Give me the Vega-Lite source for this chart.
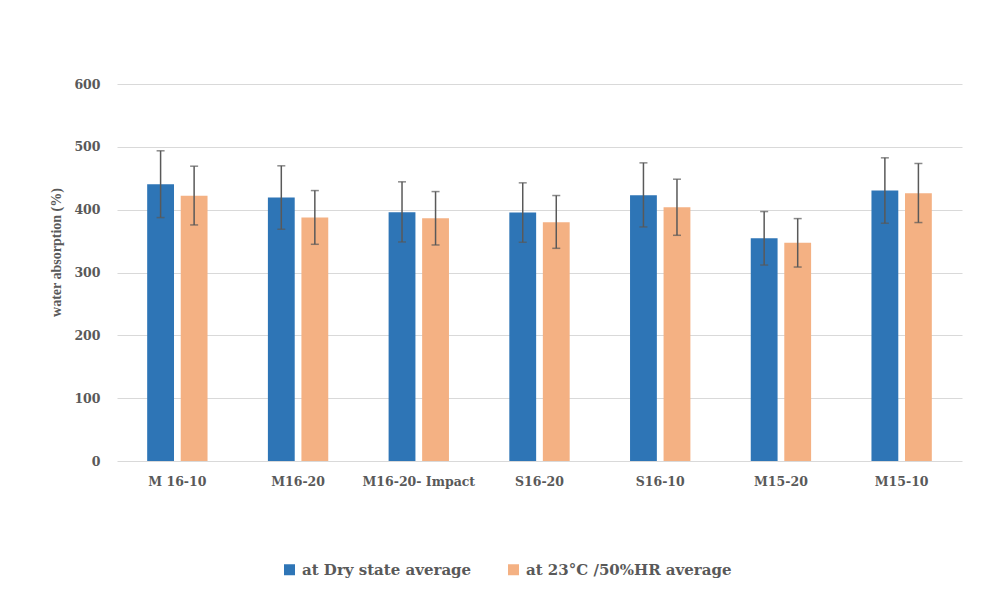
{
  "$schema": "https://vega.github.io/schema/vega-lite/v6.json",
  "width": 845,
  "height": 377,
  "autosize": "none",
  "padding": {"left": 117, "top": 84, "right": 26, "bottom": 130},
  "background": "white",
  "config": {
    "view": {"stroke": null},
    "font": "DejaVu Serif"
  },
  "data": {
    "values": [
      {"sample": "M 16-10", "series": "at Dry state average", "value": 440.5, "lo": 387.4, "hi": 493.7},
      {"sample": "M 16-10", "series": "at  23°C /50%HR average", "value": 422.0, "lo": 375.7, "hi": 469.2},
      {"sample": "M16-20", "series": "at Dry state average", "value": 419.3, "lo": 368.8, "hi": 469.8},
      {"sample": "M16-20", "series": "at  23°C /50%HR average", "value": 387.4, "lo": 344.9, "hi": 430.4},
      {"sample": "M16-20- Impact", "series": "at Dry state average", "value": 396.0, "lo": 348.6, "hi": 444.3},
      {"sample": "M16-20- Impact", "series": "at  23°C /50%HR average", "value": 386.3, "lo": 343.8, "hi": 428.8},
      {"sample": "S16-20", "series": "at Dry state average", "value": 395.4, "lo": 348.1, "hi": 442.7},
      {"sample": "S16-20", "series": "at  23°C /50%HR average", "value": 380.0, "lo": 338.5, "hi": 422.5},
      {"sample": "S16-10", "series": "at Dry state average", "value": 423.0, "lo": 372.5, "hi": 474.5},
      {"sample": "S16-10", "series": "at  23°C /50%HR average", "value": 404.0, "lo": 359.2, "hi": 448.5},
      {"sample": "M15-20", "series": "at Dry state average", "value": 354.4, "lo": 311.9, "hi": 397.0},
      {"sample": "M15-20", "series": "at  23°C /50%HR average", "value": 347.5, "lo": 308.7, "hi": 385.8},
      {"sample": "M15-10", "series": "at Dry state average", "value": 430.4, "lo": 378.4, "hi": 482.5},
      {"sample": "M15-10", "series": "at  23°C /50%HR average", "value": 426.2, "lo": 379.5, "hi": 473.5}
    ]
  },
  "encoding": {
    "x": {
      "field": "sample",
      "type": "nominal",
      "sort": null,
      "scale": {"paddingInner": 0.5, "paddingOuter": 0.25},
      "axis": {
        "title": null,
        "labelAngle": 0,
        "domain": false,
        "ticks": false,
        "labelPadding": 14,
        "labelFont": "DejaVu Serif",
        "labelFontSize": 12.5,
        "labelFontWeight": "bold",
        "labelColor": "#595959"
      }
    },
    "xOffset": {
      "field": "series",
      "type": "nominal",
      "sort": ["at Dry state average", "at  23°C /50%HR average"],
      "scale": {"paddingInner": 0.2, "paddingOuter": 0}
    }
  },
  "layer": [
    {
      "mark": {"type": "bar"},
      "encoding": {
        "y": {
          "field": "value",
          "type": "quantitative",
          "scale": {"domain": [0, 600], "nice": false},
          "axis": {
            "values": [0, 100, 200, 300, 400, 500, 600],
            "title": "water absorption (%)",
            "titleFont": "Liberation Serif",
            "titleFontSize": 14,
            "titleFontWeight": "bold",
            "titleColor": "#595959",
            "titleY": 168,
            "titlePadding": 10,
            "domain": false,
            "ticks": false,
            "grid": true,
            "gridColor": "#d9d9d9",
            "gridWidth": 1,
            "labelPadding": 17,
            "labelFont": "DejaVu Serif",
            "labelFontSize": 12.5,
            "labelFontWeight": "bold",
            "labelColor": "#595959"
          }
        },
        "color": {
          "field": "series",
          "type": "nominal",
          "scale": {
            "domain": ["at Dry state average", "at  23°C /50%HR average"],
            "range": ["#2E75B6", "#F4B183"]
          },
          "legend": {
            "title": null,
            "orient": "none",
            "legendX": 165,
            "legendY": 478,
            "direction": "horizontal",
            "symbolType": "square",
            "symbolSize": 121,
            "symbolStrokeWidth": 0,
            "labelFont": "DejaVu Serif",
            "labelFontSize": 15,
            "labelFontWeight": "bold",
            "labelColor": "#595959",
            "labelOffset": 5,
            "columnPadding": 34,
            "labelLimit": 400
          }
        }
      }
    },
    {
      "mark": {"type": "rule", "color": "#595959", "strokeWidth": 1.5},
      "encoding": {
        "y": {"field": "lo", "type": "quantitative"},
        "y2": {"field": "hi"}
      }
    },
    {
      "mark": {"type": "tick", "color": "#595959", "thickness": 1.5, "size": 8},
      "encoding": {
        "y": {"field": "lo", "type": "quantitative"}
      }
    },
    {
      "mark": {"type": "tick", "color": "#595959", "thickness": 1.5, "size": 8},
      "encoding": {
        "y": {"field": "hi", "type": "quantitative"}
      }
    }
  ]
}
